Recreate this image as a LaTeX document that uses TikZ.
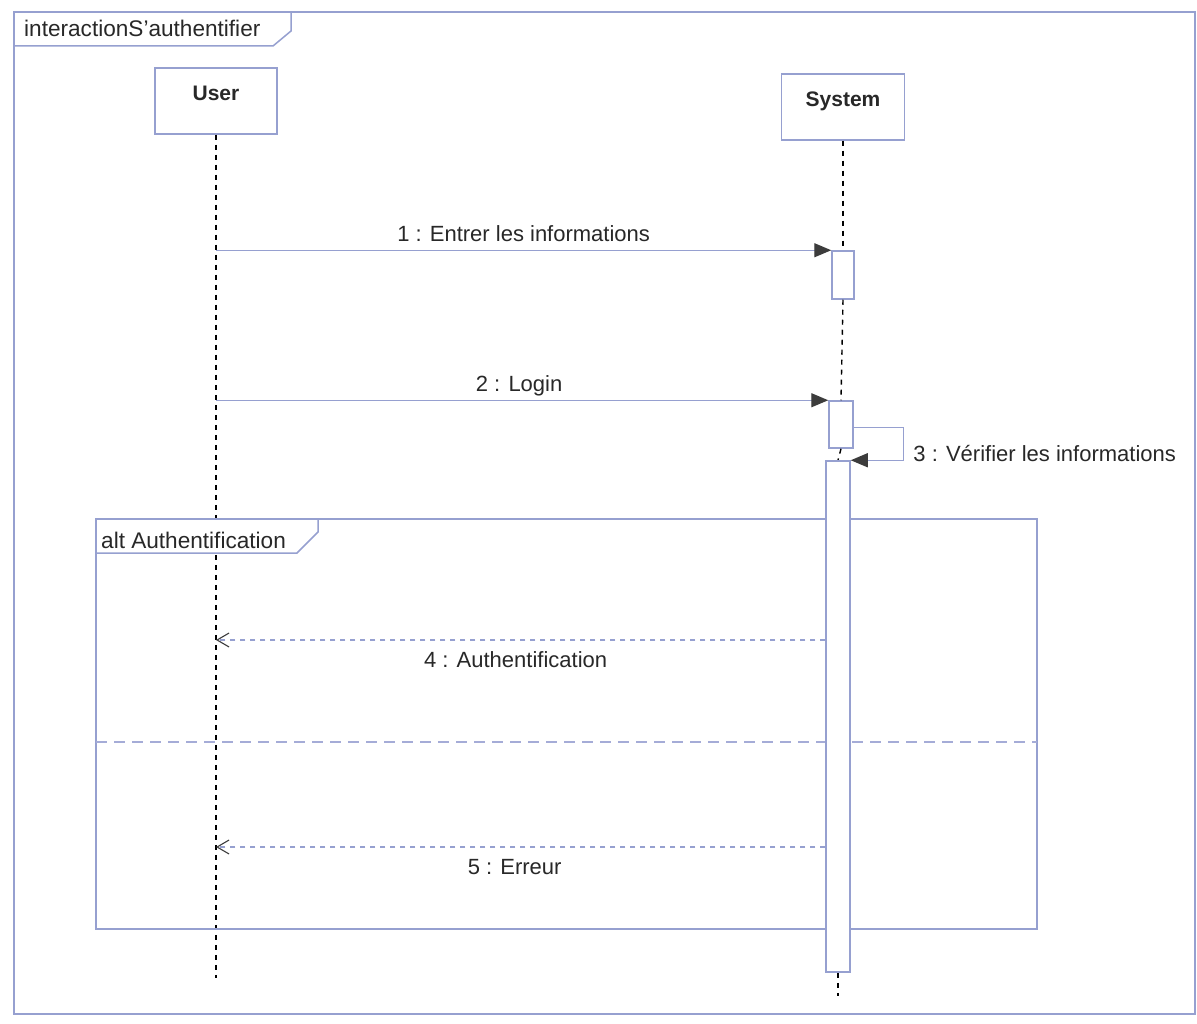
\documentclass[tikz,border=0pt]{standalone}
\usepackage{fontspec}
\setmainfont{Liberation Sans}
\usetikzlibrary{arrows.meta,calc}
\definecolor{umlline}{RGB}{150,160,208}
\definecolor{umllight}{RGB}{165,172,215}
\definecolor{tipgrey}{RGB}{60,60,60}
\definecolor{inkgrey}{RGB}{40,40,40}
\begin{document}
\begin{tikzpicture}[x=1pt,y=-1pt,
  frameline/.style={draw=umlline, line width=1.5pt},
  actor/.style={draw=umlline, line width=1.5pt, fill=white, inner sep=0pt,
    minimum height=66pt, font=\fontsize{21}{25}\selectfont\bfseries,
    text=inkgrey, text height=15pt, text depth=15pt},
  lifeline/.style={draw=black, line width=1.4pt, dash pattern=on 5pt off 5pt},
  actbox/.style={draw=umlline, line width=1.5pt, fill=white, inner sep=0pt},
  msg/.style={draw=umlline, line width=1.4pt,
    -{Triangle[length=17pt,width=14pt,color=tipgrey]}},
  reply/.style={draw=umlline, line width=1.3pt, dash pattern=on 5pt off 5pt,
    -{Straight Barb[length=12pt,width=14pt,color=tipgrey,line width=1.1pt]}},
  altsep/.style={draw=umllight, line width=1.3pt, dash pattern=on 11pt off 7pt},
  lbl/.style={font=\fontsize{22}{26}\selectfont, text=inkgrey, inner sep=2pt,
    text height=16pt, text depth=5pt},
  fragname/.style={font=\fontsize{22.6}{27}\selectfont, text=inkgrey, inner sep=2pt}
]
\useasboundingbox (0,0) rectangle (1197,1024);
\fill[white] (0,0) rectangle (1197,1024);

% outer interaction frame and its name tab
\draw[frameline] (14,12) rectangle (1195,1014);
\draw[frameline] (14,46) -- (273,46) -- (291,31) -- (291,12);
\node[fragname, anchor=base west] (sdname) at (22,37) {interactionS'authentifier};

% participants
\node[actor, minimum width=122pt] (user) at (216,101) {User};
\node[actor, minimum width=123pt] (sys) at (843,107) {System};

% activation bars
\node[actbox, minimum width=22pt, minimum height=48pt] (act1) at (843,275) {};
\node[actbox, minimum width=24pt, minimum height=47pt] (act2) at (841,424.5) {};
\node[actbox, minimum width=24pt, minimum height=511pt] (act3) at (838,716.5) {};

% lifelines
\coordinate (uEnd) at (216,978);
\coordinate (sEnd) at (838,996);
\draw[lifeline] (user.south) -- (uEnd);
\draw[lifeline] (sys.south) -- (act1.north);
\draw[lifeline] (act1.south) -- (act2.north);
\draw[lifeline] (act2.south) -- (act3.north);
\draw[lifeline] (act3.south) -- (sEnd);

% alt combined fragment
\coordinate (altNW) at (96,519);
\coordinate (altSE) at (1037,929);
\coordinate (sepL) at (96,742);
\coordinate (sepR) at (1037,742);
\draw[frameline] (altNW) rectangle (altSE);
\draw[frameline, fill=white] (altNW) -- (318,519) -- (318,532) -- (297,553) -- (96,553) -- cycle;
\node[fragname, anchor=base west] (altname) at (99,548) {alt Authentification};
\draw[altsep] (sepL) -- (sepR);

% redraw the long activation bar over the fragment lines
\node[actbox, minimum width=24pt, minimum height=511pt] at (act3) {};

% messages
\draw[msg] (user.south |- act1.north west) -- (act1.north west)
  node[lbl, midway, above=1pt] {1 : Entrer les informations};
\draw[msg] (user.south |- act2.north west) -- (act2.north west)
  node[lbl, midway, above=1pt, xshift=-3pt] {2 : Login};
\draw[msg] ([yshift=-3pt]act2.east) -- ++(50,0) |- (act3.north east)
  node[lbl, pos=0.25, anchor=west, xshift=7pt, yshift=-12pt] {3 : Vérifier les informations};

\coordinate (y4) at (0,640);
\coordinate (y5) at (0,847);
\draw[reply] (act3.west |- y4) -- (user.south |- y4)
  node[lbl, midway, below=9pt, xshift=-5pt] {4 : Authentification};
\draw[reply] (act3.west |- y5) -- (user.south |- y5)
  node[lbl, midway, below=9pt, xshift=-6pt] {5 : Erreur};
\end{tikzpicture}
\end{document}
